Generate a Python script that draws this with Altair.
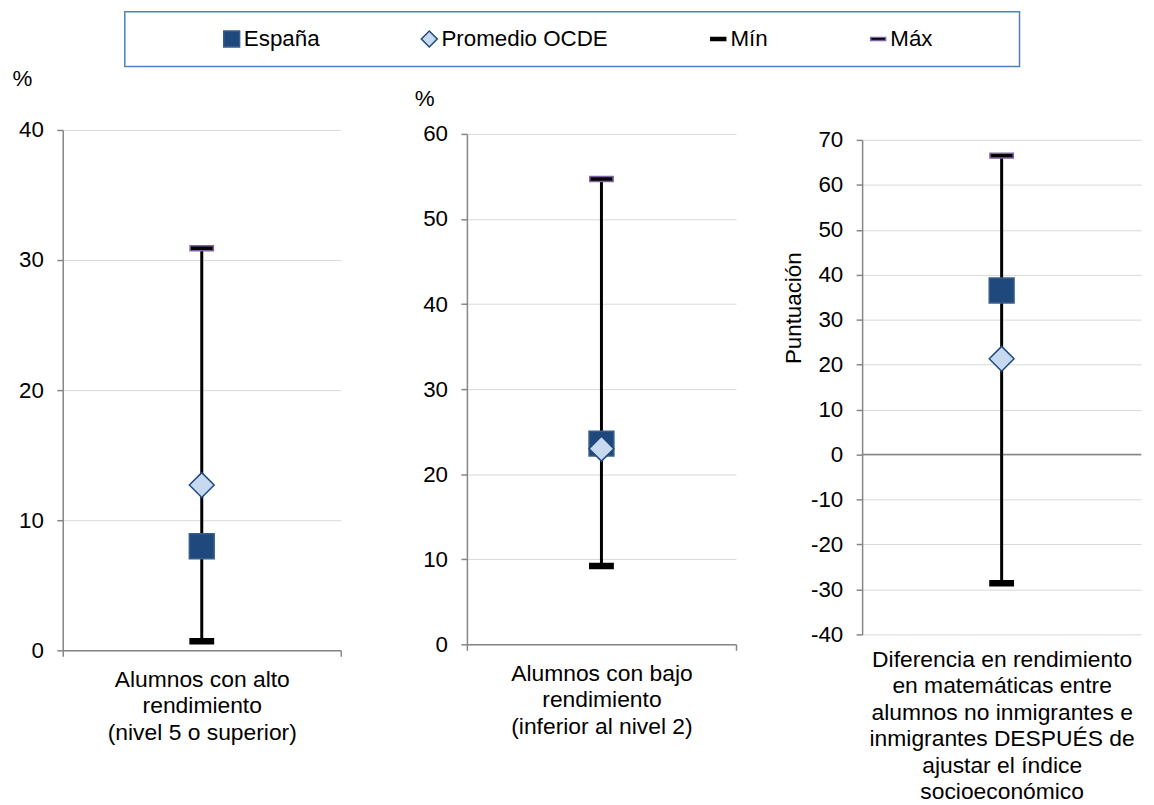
import altair as alt
import pandas as pd

# ---------------- data ----------------
series = ["España", "Promedio OCDE", "Mín", "Máx"]
etiquetas = [
    ["Alumnos con alto", "rendimiento", "(nivel 5 o superior)"],
    ["Alumnos con bajo", "rendimiento", "(inferior al nivel 2)"],
    ["Diferencia en rendimiento", "en matemáticas entre", "alumnos no inmigrantes e",
     "inmigrantes DESPUÉS de", "ajustar el índice", "socioeconómico"],
]
espana = [8.0, 23.6, 36.5]
ocde = [12.7, 23.0, 21.3]
minimo = [0.7, 9.2, -28.6]
maximo = [30.9, 54.7, 66.5]
y_dominios = [(0, 40), (0, 60), (-40, 70)]
y_titulos = ["%", "%", "Puntuación"]

# ---------------- styles ----------------
FONT = "Liberation Sans"
DASH = "M-0.94,-0.2L0.94,-0.2L0.94,0.2L-0.94,0.2Z"
shape_range = ["square", "diamond", DASH, DASH]
fill_range = ["#1f497d", "#c6d9f1", "#000000", "#000000"]
stroke_range = ["#385d8a", "#1f497d", "#000000", "#8064a2"]
AXIS_GRAY = "#868686"
GRID = "#d9d9d9"

legend = alt.Legend(
    title=None, orient="none", legendX=159, legendY=16, direction="horizontal",
    columns=4, columnPadding=99, symbolSize=256, symbolStrokeWidth=1.5,
    labelFontSize=22.5, labelFont=FONT, labelColor="black", labelOffset=1,
    padding=0, labelLimit=0,
)

# (width, height, top offset of the value range inside the plot)
panel_sizes = [(280, 524, 0), (271, 518, 4), (281, 508, 10)]
title_pos = [
    dict(titleX=-51, titleY=-45, titleAngle=0, titleAlign="left", titleBaseline="alphabetic"),
    dict(titleX=-53, titleY=-25, titleAngle=0, titleAlign="left", titleBaseline="alphabetic"),
    dict(titleX=-57, titleY=179, titleAngle=270, titleAlign="center", titleBaseline="bottom"),
]


def panel(i):
    cat = "|".join(etiquetas[i])
    lo, hi = y_dominios[i]
    w, h, top = panel_sizes[i]
    df_rule = pd.DataFrame({"cat": [cat], "minimo": [minimo[i]], "maximo": [maximo[i]]})
    df_pts = pd.DataFrame({
        "cat": [cat] * 4,
        "serie": ["Mín", "Máx", "España", "Promedio OCDE"],
        "valor": [minimo[i], maximo[i], espana[i], ocde[i]],
    })
    yscale = alt.Scale(domain=[lo, hi], nice=False, zero=False, range=[h, top])
    yaxis = alt.Axis(
        values=list(range(lo, hi + 1, 10)), labelExpr="'' + datum.value",
        grid=True, gridColor=GRID, gridWidth=1,
        domainColor=AXIS_GRAY, domainWidth=1.5, tickColor=AXIS_GRAY, tickWidth=1.5,
        tickSize=6, labelFontSize=22.5, labelPadding=13.5, labelColor="black",
        labelFont=FONT, title=y_titulos[i], titleFontSize=22.5, titleFontWeight="normal",
        titleColor="black", titleFont=FONT, **title_pos[i],
    )
    last = i == 2
    xaxis = alt.Axis(
        title=None, labelExpr="split(datum.label, '|')", labelAngle=0,
        labelFontSize=23, labelLineHeight=26.7, labelLimit=0, labelColor="black",
        labelFont=FONT, labelBaseline="top",
        labelPadding=14 if last else 12,
        tickBand="extent", ticks=not last, tickColor=AXIS_GRAY,
        tickSize=0 if last else 6, tickWidth=1.5,
        domain=not last, domainColor=AXIS_GRAY, domainWidth=1.5, grid=False,
    )
    xscale = alt.Scale(type="band", paddingInner=0, paddingOuter=0)
    x = alt.X("cat:N", scale=xscale, axis=xaxis)

    layers = []
    if last:
        zero = alt.Chart(df_rule).mark_rule(color=AXIS_GRAY, strokeWidth=1.5).encode(
            y=alt.YDatum(0, type="quantitative", scale=yscale, axis=yaxis)
        )
        layers.append(zero)
    rule = alt.Chart(df_rule).mark_rule(color="black", strokeWidth=3).encode(
        x=x,
        y=alt.Y("minimo:Q", scale=yscale, axis=yaxis),
        y2=alt.Y2("maximo:Q"),
    )
    pts = alt.Chart(df_pts).mark_point(filled=True, size=625, strokeWidth=1.5, opacity=1).encode(
        x=x,
        y=alt.Y("valor:Q", scale=yscale, axis=yaxis),
        shape=alt.Shape("serie:N", scale=alt.Scale(domain=series, range=shape_range), legend=legend),
        fill=alt.Fill("serie:N", scale=alt.Scale(domain=series, range=fill_range), legend=legend),
        stroke=alt.Stroke("serie:N", scale=alt.Scale(domain=series, range=stroke_range), legend=legend),
    )
    layers += [rule, pts]
    return alt.layer(*layers).properties(width=w, height=h)


# legend frame: an empty view with a blue border (the legend itself is drawn at the top level);
# the invisible anchor widens its bounds so that centring puts the frame where it belongs
box = alt.Chart(pd.DataFrame({"v": [0]})).mark_point(
    opacity=0, size=0, strokeWidth=0
).encode(
    x=alt.value(961), y=alt.value(27)
).properties(width=901, height=55, view=alt.ViewBackground(stroke="#4f81bd", strokeWidth=1.5))

row = alt.hconcat(panel(0), panel(1), panel(2), spacing=127, bounds="flush")

chart = alt.vconcat(box, row, spacing=0, center=True).resolve_scale(
    shape="shared", fill="shared", stroke="shared"
).properties(
    padding={"left": 4, "top": 0, "right": 4, "bottom": 0}
).configure(font=FONT).configure_view(stroke=None)

chart.save("out.html", embed_options={"renderer": "svg", "actions": False})
